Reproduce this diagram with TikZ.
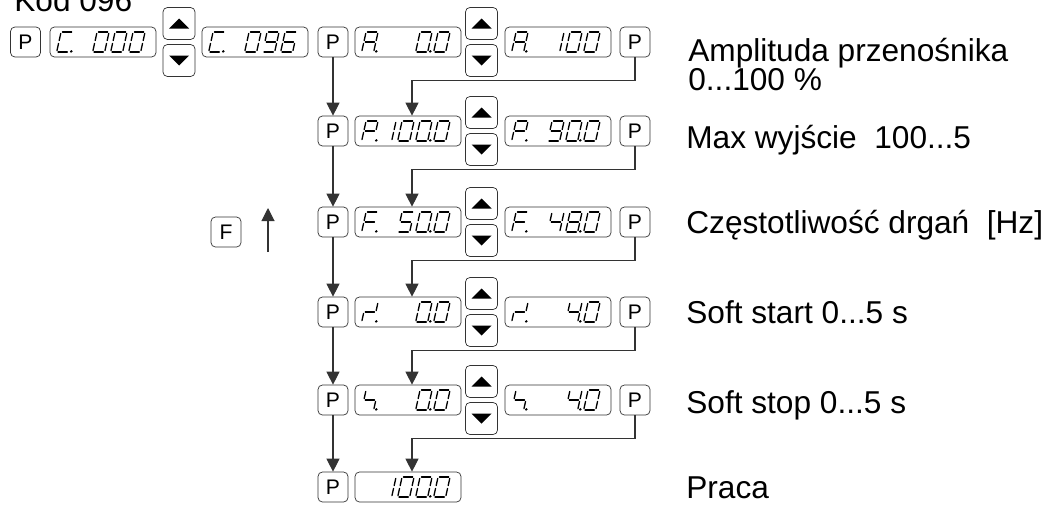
\documentclass[tikz,border=0pt]{standalone}
\usepackage{fontspec}
\setmainfont{Liberation Sans}
\usetikzlibrary{arrows.meta}

% seven segment glyphs (segments a..g)
\expandafter\def\csname glyph0\endcsname{a,b,c,d,e,f}
\expandafter\def\csname glyph1\endcsname{b,c}
\expandafter\def\csname glyph4\endcsname{b,c,f,g}
\expandafter\def\csname glyph5\endcsname{a,c,d,f,g}
\expandafter\def\csname glyph6\endcsname{a,c,d,e,f,g}
\expandafter\def\csname glyph8\endcsname{a,b,c,d,e,f,g}
\expandafter\def\csname glyph9\endcsname{a,b,c,d,f,g}
\def\glyphA{a,b,c,e,f,g}
\def\glyphC{a,d,e,f}
\def\glyphF{a,e,f,g}
\def\glyphP{a,b,e,f,g}
\def\glyphr{b,e,g}
\def\glyphs{c,f,g}

\def\sega{(1.4,-20) -- (10.6,-20)}
\def\segb{(12,-18.6) -- (12,-11.4)}
\def\segc{(12,-8.6) -- (12,-1.4)}
\def\segd{(1.4,0) -- (10.6,0)}
\def\sege{(0,-1.4) -- (0,-8.6)}
\def\segf{(0,-11.4) -- (0,-18.6)}
\def\segg{(1.4,-10) -- (10.6,-10)}

% #1 display node, #2 list pos/glyph/dot
\newcommand{\segdisp}[2]{%
  \begin{scope}[shift={(#1.west)}]
  \foreach \p/\g/\d in {#2} {
    \begin{scope}[shift={({7+18*\p},10)}, xslant=0.22, line width=0.75pt, line cap=round]
      \edef\seglist{\csname glyph\g\endcsname}
      \foreach \q in \seglist {\expandafter\draw\csname seg\q\endcsname;}
      \ifnum\d=1 \fill (14.5,-0.6) circle (1.4); \fi
    \end{scope}
  }
  \end{scope}}

\tikzset{
  keybox/.style={draw=black!80, rounded corners=2.5pt, minimum width=0.6cm, minimum height=0.6cm, inner sep=0pt, font=\fontsize{12}{14}\selectfont},
  dispbox/.style={draw=black!80, rounded corners=2.5pt, minimum width=2.12cm, minimum height=0.6cm, inner sep=0pt},
  arrbtn/.style={draw=black!80, rounded corners=2.5pt, minimum width=0.64cm, minimum height=0.64cm, inner sep=0pt},
  flow/.style={draw=black!80, line width=0.6pt, -{Triangle[length=0.26cm, width=0.26cm]}},
  infotext/.style={anchor=base west, inner sep=0pt, font=\fontsize{18}{20}\selectfont}
}

\begin{document}
\begin{tikzpicture}[x=0.02cm, y=-0.02cm]
	\useasboundingbox (0,0) rectangle (1050,504);
	
	% row 1
	\node[infotext] (kod) at (14,11) {Kod 096};
	\node[keybox] (p0) at (25.5,42) {P};
	\node[dispbox] (c1) at (103,42) {};
	\node[arrbtn] (up0) at (179,23.5) {};
	\node[arrbtn] (dn0) at (179,60.5) {};
	\node[dispbox] (c2) at (255,42) {};
	\node[keybox] (p1) at (333,42) {P};
	\node[dispbox] (d1) at (408,42) {};
	\node[arrbtn] (up1) at (481.5,23.5) {};
	\node[arrbtn] (dn1) at (481.5,60.5) {};
	\node[dispbox] (e1) at (558,42) {};
	\node[keybox] (q1) at (635,42) {P};
	\node[infotext] (t1) at (688,61) {Amplituda przenośnika};
	\node[infotext] (t1b) at (688,90) {0...100 \%};
	
	% row 2
	\node[keybox] (p2) at (333,131) {P};
	\node[dispbox] (d2) at (408,131) {};
	\node[arrbtn] (up2) at (481.5,112.5) {};
	\node[arrbtn] (dn2) at (481.5,149.5) {};
	\node[dispbox] (e2) at (558,131) {};
	\node[keybox] (q2) at (635,131) {P};
	\node[infotext] (t2) at (686,148) {Max wyjście\ \ 100...5};
	
	% row 3
	\node[keybox] (f) at (226,232) {F};
	\coordinate (fa) at (268,252);
	\coordinate (fb) at (268,208);
	\draw[flow] (fa) -- (fb);
	\node[keybox] (p3) at (333,222) {P};
	\node[dispbox] (d3) at (408,222) {};
	\node[arrbtn] (up3) at (481.5,203.5) {};
	\node[arrbtn] (dn3) at (481.5,240.5) {};
	\node[dispbox] (e3) at (558,222) {};
	\node[keybox] (q3) at (635,222) {P};
	\node[infotext] (t3) at (686,233) {Częstotliwość drgań\ \ [Hz]};
	
	% row 4
	\node[keybox] (p4) at (333,312) {P};
	\node[dispbox] (d4) at (408,312) {};
	\node[arrbtn] (up4) at (481.5,293.5) {};
	\node[arrbtn] (dn4) at (481.5,330.5) {};
	\node[dispbox] (e4) at (558,312) {};
	\node[keybox] (q4) at (635,312) {P};
	\node[infotext] (t4) at (686,323) {Soft start 0...5 s};
	
	% row 5
	\node[keybox] (p5) at (333,400) {P};
	\node[dispbox] (d5) at (408,400) {};
	\node[arrbtn] (up5) at (481.5,381.5) {};
	\node[arrbtn] (dn5) at (481.5,418.5) {};
	\node[dispbox] (e5) at (558,400) {};
	\node[keybox] (q5) at (635,400) {P};
	\node[infotext] (t5) at (686,413) {Soft stop 0...5 s};
	
	% row 6
	\node[keybox] (p6) at (333,487) {P};
	\node[dispbox] (d6) at (408,487) {};
	\node[infotext] (t6) at (686,498) {Praca};
	
	% buttons
	\foreach \b in {up0,up1,up2,up3,up4,up5}
		\fill (\b.center) ++(-10,5) -- ++(20,0) -- ++(-10,-10) -- cycle;
	\foreach \b in {dn0,dn1,dn2,dn3,dn4,dn5}
		\fill (\b.center) ++(-10,-5) -- ++(20,0) -- ++(-10,10) -- cycle;
	
	% flow
	\foreach \a/\b in {p1/p2,p2/p3,p3/p4,p4/p5,p5/p6}
		\draw[flow] (\a) -- (\b);
	\foreach \a/\b in {q1/d2,q2/d3,q3/d4,q4/d5,q5/d6}
		\draw[flow] (\a.south) -- ++(0,23) -| ([xshift=0.08cm]\b.north);
	
	% displays
	\segdisp{c1}{0/C/1,2/0/0,3/0/0,4/0/0}
	\segdisp{c2}{0/C/1,2/0/0,3/9/0,4/6/0}
	\segdisp{d1}{0/A/1,3/0/1,4/0/0}
	\segdisp{e1}{0/A/1,2/1/0,3/0/0,4/0/0}
	\segdisp{d2}{0/P/1,1/1/0,2/0/0,3/0/1,4/0/0}
	\segdisp{e2}{0/P/1,2/9/0,3/0/1,4/0/0}
	\segdisp{d3}{0/F/1,2/5/0,3/0/1,4/0/0}
	\segdisp{e3}{0/F/1,2/4/0,3/8/1,4/0/0}
	\segdisp{d4}{0/r/1,3/0/1,4/0/0}
	\segdisp{e4}{0/r/1,3/4/1,4/0/0}
	\segdisp{d5}{0/s/1,3/0/1,4/0/0}
	\segdisp{e5}{0/s/1,3/4/1,4/0/0}
	\segdisp{d6}{1/1/0,2/0/0,3/0/1,4/0/0}
	
\end{tikzpicture}
\end{document}
